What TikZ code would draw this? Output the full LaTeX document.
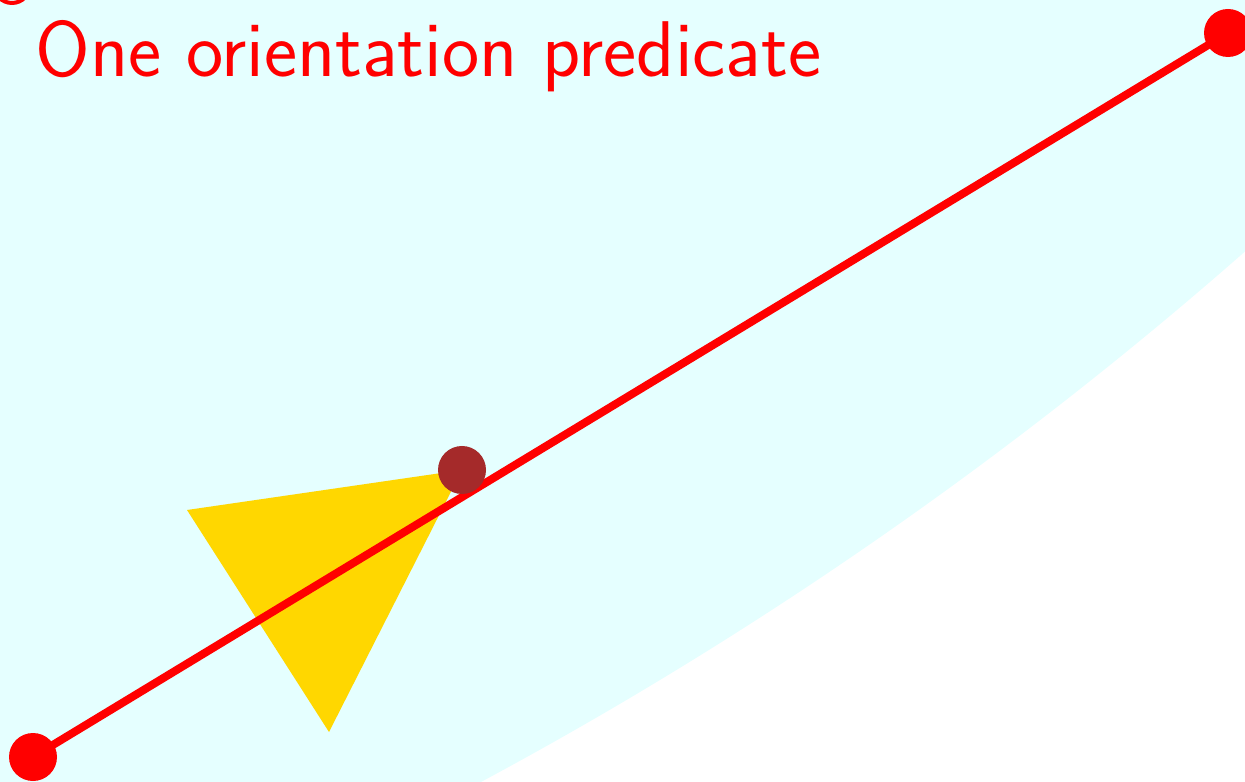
\documentclass[tikz,border=0pt]{standalone}
\usepackage{tikz}
\definecolor{paleaqua}{RGB}{229,255,255}
\definecolor{gold}{RGB}{255,215,0}
\definecolor{dotbrown}{RGB}{165,42,42}
\usetikzlibrary{arrows}

\begin{document}
\begin{tikzpicture}[x=0.5pt, y=0.5pt,
        dot/.style={circle, fill=#1, inner sep=0pt, minimum size=24pt},
        segment/.style={red, line width=4pt},
        font=\sffamily\fontsize{39.5}{40}\selectfont]
        % Bildbereich
        \useasboundingbox (0,0) rectangle (1245,781);
        \clip (0,0) rectangle (1245,781);
        % Halbebene
        \fill[paleaqua] (-1443,3591) circle (4074);
        % Punkte festlegen
        \coordinate (p) at (33,24);
        \coordinate (q) at (1228,748);
        \coordinate (r) at (462,311);
        % Dreieck
        \fill[gold] (187,271) -- (329,49) -- (r) -- cycle;
        % Strecke
        \draw[segment] (p) -- (q);
        \draw[red, line width=2pt] (12,796) circle (18);
        % Punkte zeichnen
        \node[dot=red] (pdot) at (p) {};
        \node[dot=red] (qdot) at (q) {};
        \node[dot=dotbrown] (rdot) at (r) {};
        % Beschriftung
        \node[red, anchor=base west, inner sep=0pt] (title) at (35,704) {One orientation predicate};
    \end{tikzpicture}
\end{document}
